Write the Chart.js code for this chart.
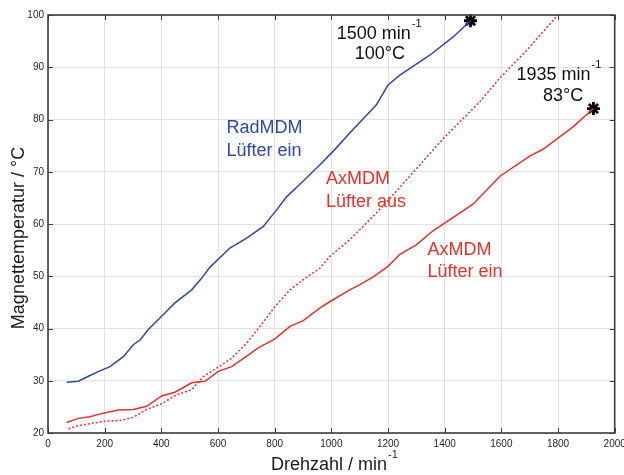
<!DOCTYPE html>
<html><head><meta charset="utf-8">
<script src="https://cdn.jsdelivr.net/npm/chart.js@4/dist/chart.umd.min.js"></script>
<style>html,body{margin:0;padding:0;background:#fff;}</style>
</head><body>
<canvas id="c" width="624" height="475"></canvas>
<script>
// RadMDM, Lüfter ein (blue)
const radX = [66, 107, 148, 183, 219, 266, 301, 325, 354, 395, 448, 507, 542, 571, 642, 701, 759, 807, 842, 889, 959, 1006, 1065, 1159, 1200, 1242, 1347, 1430, 1491];
const radY = [29.7, 29.9, 31.0, 31.9, 32.7, 34.6, 36.9, 37.8, 39.8, 42.0, 44.9, 47.4, 49.6, 51.7, 55.4, 57.3, 59.5, 62.7, 65.2, 67.6, 71.3, 73.9, 77.4, 82.8, 86.6, 88.5, 92.3, 95.8, 98.9];
// AxMDM, Lüfter ein (red solid)
const axEinX = [66, 107, 148, 195, 248, 301, 348, 401, 448, 507, 554, 601, 648, 690, 742, 801, 854, 901, 959, 1006, 1065, 1101, 1148, 1200, 1242, 1300, 1359, 1500, 1594, 1700, 1747, 1853, 1925];
const axEinY = [22.0, 22.8, 23.1, 23.8, 24.4, 24.5, 25.1, 27.1, 27.8, 29.6, 29.9, 31.8, 32.7, 34.3, 36.3, 38.0, 40.4, 41.5, 43.9, 45.5, 47.4, 48.4, 49.9, 51.9, 54.2, 56.0, 58.7, 63.8, 69.1, 73.0, 74.3, 78.6, 82.1];
// AxMDM, Lüfter aus (red dotted)
const axAusX = [72, 107, 160, 207, 254, 301, 348, 401, 454, 507, 548, 595, 648, 701, 748, 801, 854, 907, 959, 995, 1065, 1159, 1230, 1394, 1524, 1594, 1689, 1800];
const axAusY = [20.8, 21.4, 21.9, 22.3, 22.4, 23.0, 24.5, 25.6, 27.3, 28.3, 30.8, 32.4, 34.3, 37.2, 40.4, 44.2, 47.4, 49.6, 51.5, 53.8, 57.0, 62.1, 66.3, 76.3, 83.4, 87.9, 93.2, 100];
// End points (stars)
const endX = [1491, 1925];
const endY = [98.9, 82.1];
// Axis ticks
const xTicks = [0, 200, 400, 600, 800, 1000, 1200, 1400, 1600, 1800, 2000];
const yTicks = [20, 30, 40, 50, 60, 70, 80, 90, 100];
// Annotation texts (anchored in data units)
const noteText = ['1500 min', '100°C', '1935 min', '83°C', 'RadMDM', 'Lüfter ein', 'AxMDM', 'Lüfter aus', 'AxMDM', 'Lüfter ein'];
const noteSup  = ['-1', '', '-1', '', '', '', '', '', '', ''];
const noteX    = [1169, 1171, 1803, 1818, 630, 630, 981, 981, 1339, 1339];
const noteY    = [95.5, 91.5, 87.6, 83.6, 77.4, 73.0, 67.6, 63.2, 54.1, 49.9];
const noteAlign = ['center', 'center', 'center', 'center', 'left', 'left', 'left', 'left', 'left', 'left'];
const noteKind = ['k', 'k', 'k', 'k', 'b', 'b', 'r', 'r', 'r', 'r'];

const BLUE = '#3047a6', RED = '#e5312a', BLACK = '#111111';
const FONT = '"Liberation Sans", Arial, sans-serif';
const colorOf = {k: BLACK, b: BLUE, r: RED};
const pts = (xs, ys) => xs.map((v, i) => ({x: v, y: ys[i]}));

function drawSup(ctx, text, sup, x, y, size, supSize, align, color) {
  ctx.font = size + 'px ' + FONT;
  const w1 = ctx.measureText(text).width;
  ctx.font = supSize + 'px ' + FONT;
  const w2 = sup ? ctx.measureText(sup).width + 1 : 0;
  const x0 = align === 'center' ? x - (w1 + w2) / 2 : x;
  ctx.fillStyle = color; ctx.textAlign = 'left'; ctx.textBaseline = 'alphabetic';
  ctx.font = size + 'px ' + FONT;
  ctx.fillText(text, x0, y);
  if (sup) { ctx.font = supSize + 'px ' + FONT; ctx.fillText(sup, x0 + w1 + 1, y - size * 0.64); }
}

const decor = {
  id: 'decor',
  afterDatasetsDraw(chart) {
    const {ctx, chartArea: a, scales: {x, y}} = chart;
    ctx.save();
    ctx.strokeStyle = '#3c3c3c';
    ctx.lineWidth = 1;
    const L = 5;
    ctx.beginPath();
    xTicks.forEach(v => {
      const p = Math.round(x.getPixelForValue(v)) + 0.5;
      ctx.moveTo(p, a.bottom); ctx.lineTo(p, a.bottom - L);
      ctx.moveTo(p, a.top); ctx.lineTo(p, a.top + L);
    });
    yTicks.forEach(v => {
      const p = Math.round(y.getPixelForValue(v)) + 0.5;
      ctx.moveTo(a.left, p); ctx.lineTo(a.left + L, p);
      ctx.moveTo(a.right, p); ctx.lineTo(a.right - L, p);
    });
    ctx.stroke();
    ctx.lineWidth = 1.6;
    ctx.strokeRect(a.left, a.top, a.right - a.left, a.bottom - a.top);
    // annotations
    noteText.forEach((t, i) => {
      drawSup(ctx, t, noteSup[i], x.getPixelForValue(noteX[i]), y.getPixelForValue(noteY[i]), 18, 11, noteAlign[i], colorOf[noteKind[i]]);
    });
    // axis titles
    const cx = (a.left + a.right) / 2 + 3;
    drawSup(ctx, 'Drehzahl / min', '-1', cx, 470, 18, 11, 'center', '#1a1a1a');
    ctx.save();
    ctx.translate(23.5, (a.top + a.bottom) / 2 + 14);
    ctx.rotate(-Math.PI / 2);
    drawSup(ctx, 'Magnettemperatur / °C', '', 0, 0, 18, 11, 'center', '#1a1a1a');
    ctx.restore();
    ctx.restore();
  }
};

new Chart(document.getElementById('c'), {
  type: 'scatter',
  data: {
    datasets: [
      {data: pts(radX, radY), showLine: true, borderColor: BLUE, borderWidth: 1.5, pointRadius: 0, tension: 0},
      {data: pts(axAusX, axAusY), showLine: true, borderColor: RED, borderWidth: 1.5, borderDash: [2, 2], pointRadius: 0, tension: 0},
      {data: pts(axEinX, axEinY), showLine: true, borderColor: RED, borderWidth: 1.5, pointRadius: 0, tension: 0},
      {data: pts(endX, endY), showLine: false, pointStyle: 'star', pointRadius: 6.5, borderWidth: 2.8, borderColor: '#000', backgroundColor: '#000', clip: false}
    ]
  },
  options: {
    responsive: false,
    devicePixelRatio: 1,
    animation: false,
    events: [],
    layout: {padding: {left: 0, top: 15, right: 9, bottom: 0}},
    plugins: {legend: {display: false}, tooltip: {enabled: false}},
    scales: {
      x: {
        type: 'linear', min: 0, max: 2000,
        afterBuildTicks: s => { s.ticks = xTicks.map(v => ({value: v})); },
        ticks: {font: {size: 10, family: FONT}, color: '#262626', padding: 5, maxRotation: 0, autoSkip: false, callback: v => String(v)},
        grid: {color: '#e2e2e2', lineWidth: 1, drawTicks: false},
        border: {display: false},
        afterFit: s => { s.height = 42; s.paddingLeft = 0; s.paddingRight = 0; }
      },
      y: {
        type: 'linear', min: 20, max: 100,
        afterBuildTicks: s => { s.ticks = yTicks.map(v => ({value: v})); },
        ticks: {font: {size: 10, family: FONT}, color: '#262626', padding: 4, autoSkip: false, callback: v => String(v)},
        grid: {color: '#e2e2e2', lineWidth: 1, drawTicks: false},
        border: {display: false},
        afterFit: s => { s.width = 48; s.paddingTop = 0; s.paddingBottom = 0; }
      }
    }
  },
  plugins: [decor]
});
</script>
</body></html>
